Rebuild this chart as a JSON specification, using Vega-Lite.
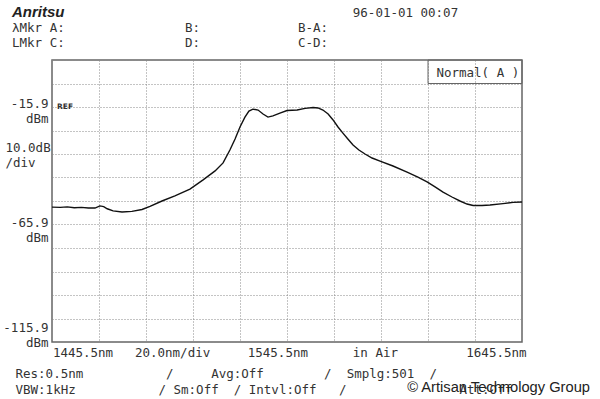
{
  "$schema": "https://vega.github.io/schema/vega-lite/v6.json",
  "width": 470,
  "height": 282,
  "autosize": {"type": "none"},
  "padding": {"top": 60, "left": 52, "right": 78, "bottom": 57},
  "background": "white",
  "config": {"view": {"stroke": "#666", "strokeWidth": 1.5}},
  "title": {
    "text": "Anritsu",
    "subtitle": [
      "λMkr\u00a0A:\u00a0\u00a0\u00a0\u00a0\u00a0\u00a0\u00a0\u00a0\u00a0\u00a0\u00a0\u00a0\u00a0\u00a0\u00a0\u00a0B:\u00a0\u00a0\u00a0\u00a0\u00a0\u00a0\u00a0\u00a0\u00a0\u00a0\u00a0\u00a0\u00a0B-A:",
      "LMkr\u00a0C:\u00a0\u00a0\u00a0\u00a0\u00a0\u00a0\u00a0\u00a0\u00a0\u00a0\u00a0\u00a0\u00a0\u00a0\u00a0\u00a0D:\u00a0\u00a0\u00a0\u00a0\u00a0\u00a0\u00a0\u00a0\u00a0\u00a0\u00a0\u00a0\u00a0C-D:"
    ],
    "anchor": "start",
    "frame": "group",
    "dx": -40,
    "offset": -43,
    "font": "Liberation Sans",
    "fontSize": 15,
    "fontWeight": "bold",
    "fontStyle": "italic",
    "color": "#222",
    "subtitleFont": "DejaVu Sans Mono",
    "subtitleFontSize": 12.5,
    "subtitleColor": "#333",
    "subtitleLineHeight": 15,
    "subtitlePadding": 2
  },
  "data": {
    "values": [
      {"wl": 1445.5, "dbm": -58.5}, {"wl": 1449.0, "dbm": -58.6}, {"wl": 1452.0, "dbm": -58.4},
      {"wl": 1455.0, "dbm": -58.8}, {"wl": 1458.0, "dbm": -58.6}, {"wl": 1461.0, "dbm": -58.9},
      {"wl": 1463.8, "dbm": -58.9}, {"wl": 1465.9, "dbm": -58.0}, {"wl": 1467.5, "dbm": -58.3},
      {"wl": 1469.0, "dbm": -59.2}, {"wl": 1471.5, "dbm": -60.1}, {"wl": 1475.3, "dbm": -60.6},
      {"wl": 1479.5, "dbm": -60.3}, {"wl": 1483.8, "dbm": -59.5}, {"wl": 1487.2, "dbm": -58.2},
      {"wl": 1492.3, "dbm": -55.9}, {"wl": 1497.8, "dbm": -53.7}, {"wl": 1504.2, "dbm": -50.8},
      {"wl": 1509.8, "dbm": -46.9}, {"wl": 1514.9, "dbm": -43.1}, {"wl": 1518.3, "dbm": -39.7},
      {"wl": 1521.2, "dbm": -34.2}, {"wl": 1523.4, "dbm": -29.5}, {"wl": 1525.5, "dbm": -24.4},
      {"wl": 1527.6, "dbm": -20.2}, {"wl": 1529.3, "dbm": -17.6}, {"wl": 1531.0, "dbm": -16.8},
      {"wl": 1533.2, "dbm": -17.2}, {"wl": 1535.3, "dbm": -18.9}, {"wl": 1537.4, "dbm": -20.2},
      {"wl": 1539.5, "dbm": -19.7}, {"wl": 1542.5, "dbm": -18.5}, {"wl": 1545.5, "dbm": -17.4},
      {"wl": 1549.8, "dbm": -17.2}, {"wl": 1553.2, "dbm": -16.5}, {"wl": 1556.6, "dbm": -16.1},
      {"wl": 1558.7, "dbm": -16.3}, {"wl": 1560.8, "dbm": -17.2}, {"wl": 1563.0, "dbm": -18.9},
      {"wl": 1565.1, "dbm": -21.4}, {"wl": 1567.2, "dbm": -24.4}, {"wl": 1569.3, "dbm": -27.0},
      {"wl": 1571.4, "dbm": -29.5}, {"wl": 1573.6, "dbm": -32.1}, {"wl": 1576.1, "dbm": -34.2},
      {"wl": 1578.7, "dbm": -35.9}, {"wl": 1581.7, "dbm": -37.6}, {"wl": 1585.1, "dbm": -38.9},
      {"wl": 1590.6, "dbm": -41.0}, {"wl": 1596.6, "dbm": -43.6}, {"wl": 1601.2, "dbm": -45.7},
      {"wl": 1605.1, "dbm": -47.8}, {"wl": 1608.5, "dbm": -49.9}, {"wl": 1611.9, "dbm": -52.1},
      {"wl": 1615.7, "dbm": -54.2}, {"wl": 1619.1, "dbm": -55.9}, {"wl": 1622.1, "dbm": -57.2},
      {"wl": 1624.7, "dbm": -57.8}, {"wl": 1628.5, "dbm": -57.8}, {"wl": 1631.9, "dbm": -57.6},
      {"wl": 1637.4, "dbm": -57.0}, {"wl": 1641.7, "dbm": -56.5}, {"wl": 1645.5, "dbm": -56.3}
    ]
  },
  "resolve": {"axis": {"x": "independent", "y": "independent"}},
  "layer": [
    {
      "mark": {"type": "line", "color": "#111", "strokeWidth": 1.4, "clip": true},
      "encoding": {
        "x": {
          "field": "wl", "type": "quantitative",
          "scale": {"domain": [1445.5, 1645.5], "nice": false, "zero": false},
          "axis": {
            "orient": "bottom",
            "values": [1445.5, 1465.5, 1485.5, 1505.5, 1525.5, 1545.5, 1565.5, 1585.5, 1605.5, 1625.5, 1645.5, 1458.5, 1496.6, 1541.4, 1582.9, 1634.4],
            "labelExpr": "abs(datum.value-1458.5)<0.01 ? '1445.5nm' : abs(datum.value-1541.4)<0.01 ? '1545.5nm' : abs(datum.value-1634.4)<0.01 ? '1645.5nm' : abs(datum.value-1496.6)<0.01 ? '20.0nm/div' : abs(datum.value-1582.9)<0.01 ? 'in Air' : ''",
            "domain": false, "ticks": false,
            "grid": true, "gridColor": "#888", "gridDash": [1, 2], "gridWidth": 1,
            "gridOpacity": {"condition": {"test": "abs((datum.value-1445.5)/20 - round((datum.value-1445.5)/20)) < 0.001", "value": 1}, "value": 0},
            "labelFont": "DejaVu Sans Mono", "labelFontSize": 12.5, "labelColor": "#333",
            "labelAlign": "center", "labelBaseline": "top", "labelPadding": 4,
            "labelOverlap": false, "labelBound": false, "labelFlush": false,
            "title": [
              "Res:0.5nm\u00a0\u00a0\u00a0\u00a0\u00a0\u00a0\u00a0\u00a0\u00a0\u00a0\u00a0/\u00a0\u00a0\u00a0\u00a0\u00a0Avg:Off\u00a0\u00a0\u00a0\u00a0\u00a0\u00a0\u00a0\u00a0/\u00a0\u00a0Smplg:501\u00a0\u00a0/",
              "VBW:1kHz\u00a0\u00a0\u00a0\u00a0\u00a0\u00a0\u00a0\u00a0\u00a0\u00a0\u00a0/\u00a0Sm:Off\u00a0\u00a0/\u00a0Intvl:Off\u00a0\u00a0\u00a0/\u00a0\u00a0\u00a0\u00a0\u00a0\u00a0\u00a0\u00a0\u00a0\u00a0\u00a0\u00a0\u00a0\u00a0\u00a0Att:Off"
            ],
            "titleFont": "DejaVu Sans Mono", "titleFontSize": 12.5, "titleFontWeight": "normal",
            "titleColor": "#333", "titleAnchor": "start", "titleAlign": "left", "titleBaseline": "top",
            "titleX": -37, "titleY": 25, "titleLineHeight": 16
          }
        },
        "y": {
          "field": "dbm", "type": "quantitative",
          "scale": {"domain": [-115.9, 4.1], "nice": false, "zero": false},
          "axis": {
            "orient": "left",
            "values": [-115.9, -105.9, -95.9, -85.9, -75.9, -65.9, -55.9, -45.9, -35.9, -25.9, -15.9, -5.9, 4.1, -11.94, -62.58, -107.25, -30.66],
            "labelExpr": "abs(datum.value+11.94)<0.01 ? ['-15.9','dBm'] : abs(datum.value+62.58)<0.01 ? ['-65.9','dBm'] : abs(datum.value+107.25)<0.01 ? ['-115.9','dBm'] : abs(datum.value+30.66)<0.01 ? ['10.0dB','/div'] : ''",
            "domain": false, "ticks": false,
            "grid": true, "gridColor": "#888", "gridDash": [1, 2], "gridWidth": 1,
            "gridOpacity": {"condition": {"test": "abs((datum.value+115.9)/10 - round((datum.value+115.9)/10)) < 0.001", "value": 1}, "value": 0},
            "labelFont": "DejaVu Sans Mono", "labelFontSize": 12.5, "labelColor": "#333",
            "labelAlign": {"condition": {"test": "abs(datum.value+30.66)<0.01", "value": "left"}, "value": "right"},
            "labelPadding": {"condition": {"test": "abs(datum.value+30.66)<0.01", "value": 47}, "value": 4},
            "labelBaseline": "top", "labelLineHeight": 15,
            "labelOverlap": false, "labelBound": false, "labelFlush": false,
            "title": null
          }
        }
      }
    },
    {
      "mark": {"type": "point", "opacity": 0},
      "encoding": {
        "x": {
          "field": "wl", "type": "quantitative",
          "axis": {
            "orient": "top",
            "values": [1595.7, 1626.5],
            "labelExpr": "datum.value < 1610 ? '96-01-01 00:07' : 'Normal( A )'",
            "domain": false, "ticks": false, "grid": false,
            "labelFont": "DejaVu Sans Mono", "labelFontSize": 12.5, "labelColor": "#333",
            "labelAlign": "center", "labelBaseline": "middle",
            "labelPadding": {"condition": {"test": "datum.value < 1610", "value": 48}, "value": -12},
            "labelOverlap": false, "labelBound": false, "labelFlush": false,
            "title": null
          }
        }
      }
    },
    {
      "data": {"values": [{}]},
      "mark": {"type": "rect", "fillOpacity": 0, "stroke": "#666", "strokeWidth": 1},
      "encoding": {
        "x": {"datum": 1605.5, "type": "quantitative", "axis": null},
        "x2": {"datum": 1645.5},
        "y": {"datum": 4.1, "type": "quantitative", "axis": null},
        "y2": {"datum": -5.9}
      }
    },
    {
      "data": {"values": [{}]},
      "mark": {"type": "text", "text": "REF", "font": "DejaVu Sans", "fontSize": 7.5, "fontWeight": "bold", "color": "#333", "align": "left", "baseline": "middle", "dx": 5},
      "encoding": {
        "x": {"datum": 1445.5, "type": "quantitative", "axis": null},
        "y": {"datum": -15.9, "type": "quantitative", "axis": null}
      }
    },
    {
      "data": {"values": [{}]},
      "mark": {"type": "text", "text": "© Artisan Technology Group", "font": "Liberation Sans", "fontSize": 14.7, "color": "#222", "align": "right", "baseline": "middle", "dx": 68, "dy": 46},
      "encoding": {
        "x": {"datum": 1645.5, "type": "quantitative", "axis": null},
        "y": {"datum": -115.9, "type": "quantitative", "axis": null}
      }
    }
  ]
}
